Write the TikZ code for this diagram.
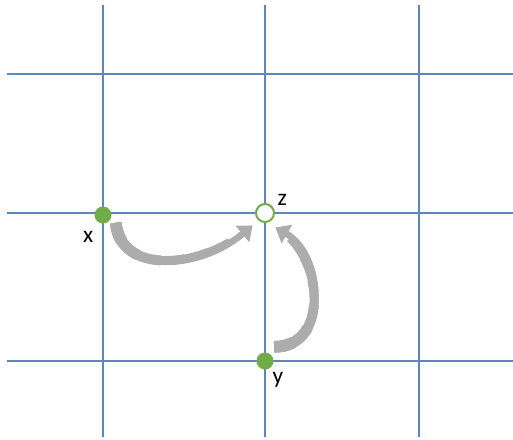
\documentclass[tikz,border=0pt]{standalone}
\usepackage{fontspec}
\setmainfont{Carlito}
\usetikzlibrary{positioning,arrows.meta}
\definecolor{gridblue}{RGB}{92,134,194}
\definecolor{leaf}{RGB}{112,173,71}
\definecolor{arrgray}{RGB}{172,172,172}
\tikzset{
  gridline/.style={draw=gridblue, line width=0.045cm},
  dot/.style={circle, fill=leaf, inner sep=0pt, minimum size=0.51cm},
  hollow/.style={circle, draw=leaf, fill=white, line width=0.06cm, inner sep=0pt, minimum size=0.54cm},
  lbl/.style={inner sep=0pt, font=\fontsize{20}{22}\selectfont, text=black},
  curvearr/.style={draw=arrgray, line width=0.2cm, -{Triangle[length=0.4cm, width=0.62cm]}},
  taper/.style={draw=arrgray, line width=#1},
}

\begin{document}
\begin{tikzpicture}[x=0.03cm, y=0.03cm]
  \useasboundingbox (0,0) rectangle (513,-439);
  % grid
  \foreach \gx in {103,265,419} \draw[gridline] (\gx,-5) -- (\gx,-437);
  \foreach \gy in {74,213,361} \draw[gridline] (7,-\gy) -- (513,-\gy);

  \node[dot] (xdot) at (103,-215) {};
  \node[hollow] (zdot) at (265,-213) {};
  \node[dot] (ydot) at (265,-361) {};

  \node[lbl, below left=0.31cm and 0.1cm of xdot] (xlbl) {x};
  \node[lbl, above right=0cm and 0.16cm of zdot] (zlbl) {z};
  \node[lbl, below right=0.16cm and 0.04cm of ydot] (ylbl) {y};

  % curved moves into z (wide tail, thinner towards the head)
  \coordinate (xtail) at ([shift={(0.2cm,-0.05cm)}]xdot.south east);
  \coordinate (xhead) at ([shift={(-0.16cm,-0.16cm)}]zdot.south west);
  \coordinate (ytail) at ([shift={(0.09cm,0.24cm)}]ydot.north east);
  \coordinate (yhead) at ([shift={(0.1cm,-0.22cm)}]zdot.south east);

  \foreach \w/\l in {0.36/17,0.33/35,0.30/55,0.27/76,0.24/97,0.22/117} {
    \draw[taper=\w cm, dash pattern=on \l pt off 1000pt]
      (xtail) to[out=-85, in=-140, out looseness=0.95, in looseness=1.35] (xhead);
    \draw[taper=\w cm, dash pattern=on \l pt off 1000pt]
      (ytail) to[out=0, in=-30, looseness=1.2] (yhead);
  }
  \draw[curvearr] (xtail) to[out=-85, in=-140, out looseness=0.95, in looseness=1.35] (xhead);
  \draw[curvearr] (ytail) to[out=0, in=-30, looseness=1.2] (yhead);
\end{tikzpicture}
\end{document}
